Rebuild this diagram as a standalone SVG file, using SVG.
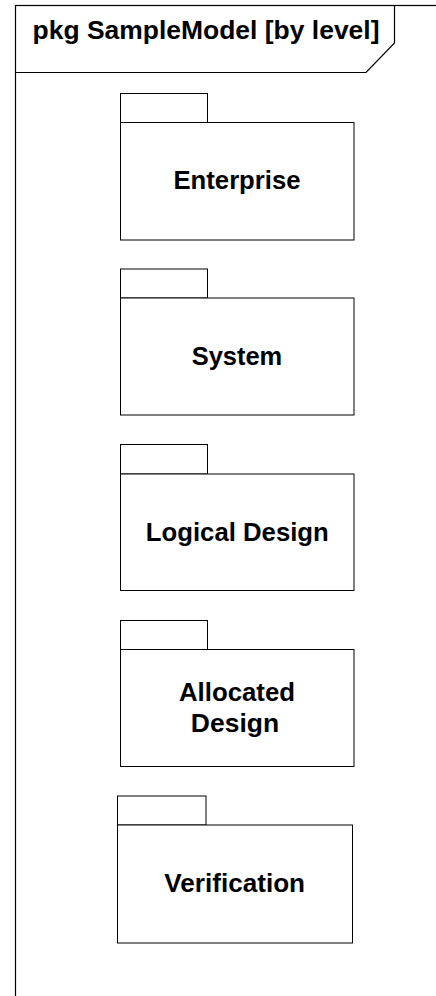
<svg xmlns="http://www.w3.org/2000/svg" width="436" height="996" viewBox="0 0 436 996">
  <style>
    .line { fill: #fff; stroke: #000; stroke-width: 1; }
    .frame { fill: none; stroke: #000; stroke-width: 1.2; }
    .lbl { font-family: "Liberation Sans", Arial, sans-serif; font-weight: bold; font-size: 25.6px; fill: #000; text-anchor: middle; }
    .title { font-family: "Liberation Sans", Arial, sans-serif; font-weight: bold; font-size: 26.3px; fill: #000; }
  </style>
  <rect width="436" height="996" fill="#fff"/>

  <!-- diagram frame (runs past the visible area on the right and bottom) -->
  <g id="frame">
    <rect class="frame" x="15.5" y="5.5" width="600" height="1200"/>
    <path class="frame" d="M15.5,72.5 H366 L394.5,43 V5.5"/>
    <text class="title" x="32.5" y="38.5" textLength="347" lengthAdjust="spacingAndGlyphs">pkg SampleModel [by level]</text>
  </g>

  <g id="enterprise">
    <rect class="line" x="120.5" y="93.5" width="87" height="29"/>
    <rect class="line" x="120.5" y="122.5" width="233.5" height="117.5"/>
    <text class="lbl" x="237" y="188.5" textLength="127" lengthAdjust="spacingAndGlyphs">Enterprise</text>
  </g>

  <g id="system">
    <rect class="line" x="120.5" y="269" width="87" height="29"/>
    <rect class="line" x="120.5" y="298" width="233.5" height="117"/>
    <text class="lbl" x="237" y="365" textLength="90.5" lengthAdjust="spacingAndGlyphs">System</text>
  </g>

  <g id="logical-design">
    <rect class="line" x="120.5" y="444.5" width="87" height="29.5"/>
    <rect class="line" x="120.5" y="474" width="233.5" height="116.5"/>
    <text class="lbl" x="237.3" y="541" textLength="183" lengthAdjust="spacingAndGlyphs">Logical Design</text>
  </g>

  <g id="allocated-design">
    <rect class="line" x="120.5" y="620.5" width="87" height="29"/>
    <rect class="line" x="120.5" y="649.5" width="233.5" height="117"/>
    <text class="lbl" x="237" y="700.5" textLength="116" lengthAdjust="spacingAndGlyphs">Allocated</text>
    <text class="lbl" x="235" y="732" textLength="88.3" lengthAdjust="spacingAndGlyphs">Design</text>
  </g>

  <g id="verification">
    <rect class="line" x="117.5" y="796" width="88.5" height="29"/>
    <rect class="line" x="117.5" y="825" width="235" height="118"/>
    <text class="lbl" x="234.7" y="891.5" textLength="140.7" lengthAdjust="spacingAndGlyphs">Verification</text>
  </g>

  <g id="connectors"></g>
</svg>
